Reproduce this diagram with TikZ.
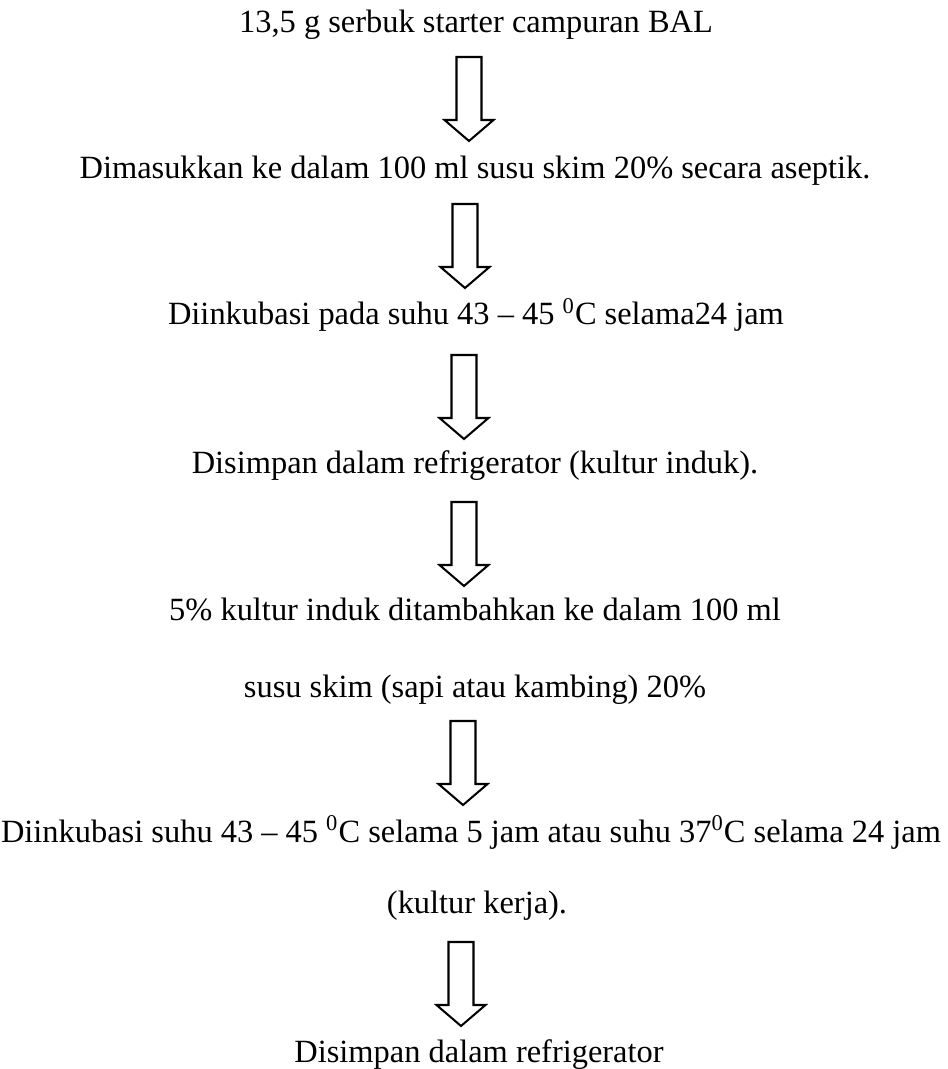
\documentclass[tikz,border=0pt]{standalone}
\usepackage{fontspec}
\setmainfont{Liberation Serif}
\begin{document}
\begin{tikzpicture}[x=0.444pt,y=-0.444pt,
  txt/.style={anchor=base,inner sep=0pt,font=\fontsize{14.4pt}{17pt}\selectfont},
  blockarrow/.pic={\draw[line width=0.9pt,line join=miter]
     (-12.5,0) -- (12.5,0) -- (12.5,63) -- (24.5,63) -- (0,84) -- (-24.5,63) -- (-12.5,63) -- cycle;}]
\useasboundingbox (0,0) rectangle (947,1069);
\node[txt] (t1) at (476,33) {13,5 g serbuk starter campuran BAL};
\pic at (469,57) {blockarrow};
\node[txt] (t2) at (475,179) {Dimasukkan ke dalam 100 ml susu skim 20\% secara aseptik.};
\pic at (465,204) {blockarrow};
\node[txt] (t3) at (476,325) {Diinkubasi pada suhu 43 – 45 \textsuperscript{0}C selama24 jam};
\pic at (464,355) {blockarrow};
\node[txt] (t4) at (475,473) {Disimpan dalam refrigerator (kultur induk).};
\pic at (464,502) {blockarrow};
\node[txt] (t5) at (475,620) {5\% kultur induk ditambahkan ke dalam 100 ml};
\node[txt] (t6) at (475,697) {susu skim (sapi atau kambing) 20\%};
\pic at (463,721) {blockarrow};
\node[txt] (t7) at (471,842) {Diinkubasi suhu 43 – 45 \textsuperscript{0}C selama 5 jam atau suhu 37\textsuperscript{0}C selama 24 jam};
\node[txt] (t8) at (477,913) {(kultur kerja).};
\pic at (461,942) {blockarrow};
\node[txt] (t9) at (479,1062) {Disimpan dalam refrigerator};
\end{tikzpicture}
\end{document}
